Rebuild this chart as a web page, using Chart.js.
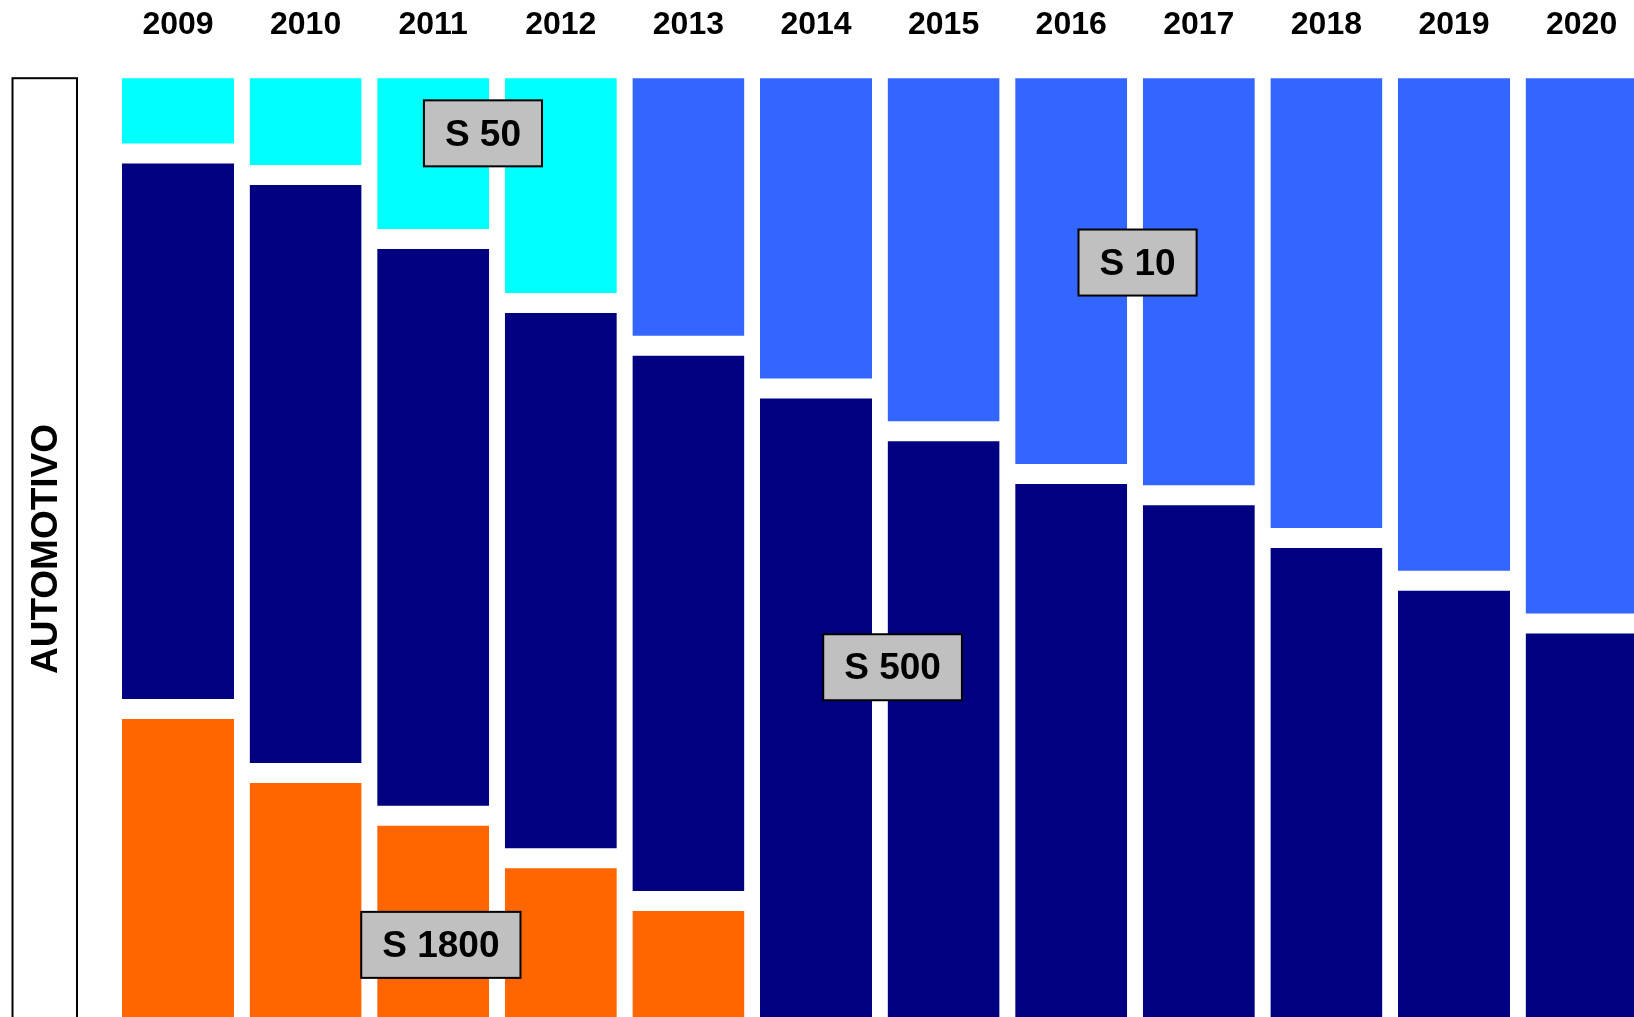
<!DOCTYPE html>
<html>
<head>
<meta charset="utf-8">
<script src="https://cdn.jsdelivr.net/npm/chart.js@4/dist/chart.umd.min.js"></script>
<style>
  html, body { margin: 0; padding: 0; overflow: hidden; background: #ffffff; width: 1634px; height: 1017px; }
  #wrap { position: absolute; left: 0; top: 0; width: 1700px; height: 1160px; }
</style>
</head>
<body>
<div id="wrap"><canvas id="c" width="1700" height="1160"></canvas></div>
<script>
// ---- Data (share of diesel sales, %) ----
const years = ['2009','2010','2011','2012','2013','2014','2015','2016','2017','2018','2019','2020'];
const s1800 = [40, 34, 30, 26, 22, null, null, null, null, null, null, null];
const s500  = [52, 56, 54, 52, 52, 70, 66, 62, 60, 56, 52, 48];
const s50   = [8, 10, 16, 22, null, null, null, null, null, null, null, null];
const s10   = [null, null, null, null, 26, 30, 34, 38, 40, 44, 48, 52];
const rowLabel = 'AUTOMOTIVO';
// annotation boxes: text, category position, value position
const tagText = ['S 50', 'S 10', 'S 500', 'S 1800'];
const tagX    = [2.39, 7.52, 5.6, 2.06];
const tagY    = [93.9, 81.8, 43.9, 17.9];

const FONT = '"Liberation Sans", Arial, Helvetica, sans-serif';

const decor = {
  id: 'decor',
  afterDatasetsDraw(chart) {
    const {ctx, chartArea, scales} = chart;
    const x = scales.x, y = scales.y;
    ctx.save();
    // row header box
    ctx.strokeStyle = '#000000';
    ctx.lineWidth = 2;
    const boxTop = chartArea.top + 10;
    ctx.fillStyle = '#ffffff';
    ctx.fillRect(12.5, boxTop, 64.5, 1200);
    ctx.strokeRect(12.5, boxTop, 64.5, 1200);
    ctx.translate(46, 549);
    ctx.rotate(-Math.PI / 2);
    ctx.fillStyle = '#000000';
    ctx.font = 'bold 37px ' + FONT;
    ctx.textAlign = 'center';
    ctx.textBaseline = 'middle';
    ctx.fillText(rowLabel, 0, 1);
    ctx.restore();

    // tag boxes
    ctx.save();
    ctx.font = 'bold 37px ' + FONT;
    ctx.textAlign = 'center';
    ctx.textBaseline = 'middle';
    tagText.forEach((t, i) => {
      const cx = x.getPixelForValue(tagX[i]);
      const cy = y.getPixelForValue(tagY[i]);
      const w = ctx.measureText(t).width + 42;
      const h = 66;
      ctx.fillStyle = '#C0C0C0';
      ctx.fillRect(cx - w / 2, cy - h / 2, w, h);
      ctx.strokeStyle = '#000000';
      ctx.lineWidth = 2;
      ctx.strokeRect(cx - w / 2, cy - h / 2, w, h);
      ctx.fillStyle = '#000000';
      ctx.fillText(t, cx, cy + 2);
    });
    ctx.restore();
  }
};

const common = {
  borderColor: '#ffffff',
  borderWidth: {top: 10, bottom: 10, left: 0, right: 0},
  borderSkipped: false,
  categoryPercentage: 1.0,
  barPercentage: 0.878
};

new Chart(document.getElementById('c'), {
  type: 'bar',
  data: {
    labels: years,
    datasets: [
      Object.assign({label: 'S 1800', data: s1800, backgroundColor: '#FF6600'}, common),
      Object.assign({label: 'S 500',  data: s500,  backgroundColor: '#000080'}, common),
      Object.assign({label: 'S 50',   data: s50,   backgroundColor: '#00FFFF'}, common),
      Object.assign({label: 'S 10',   data: s10,   backgroundColor: '#3366FF'}, common)
    ]
  },
  options: {
    responsive: false,
    devicePixelRatio: 1,
    animation: false,
    layout: { padding: { left: 114.2, right: 54.6, top: 0, bottom: 24 } },
    plugins: { legend: { display: false }, tooltip: { enabled: false } },
    scales: {
      x: {
        position: 'top',
        stacked: true,
        grid: { display: false, drawTicks: false },
        border: { display: false },
        ticks: { color: '#000000', font: { family: FONT, size: 32, weight: 'bold' }, padding: 24, maxRotation: 0, autoSkip: false },
        afterFit(scale) { scale.height = 68.2; }
      },
      y: {
        display: false,
        stacked: true,
        min: 0,
        max: 100
      }
    }
  },
  plugins: [decor]
});
</script>
</body>
</html>
